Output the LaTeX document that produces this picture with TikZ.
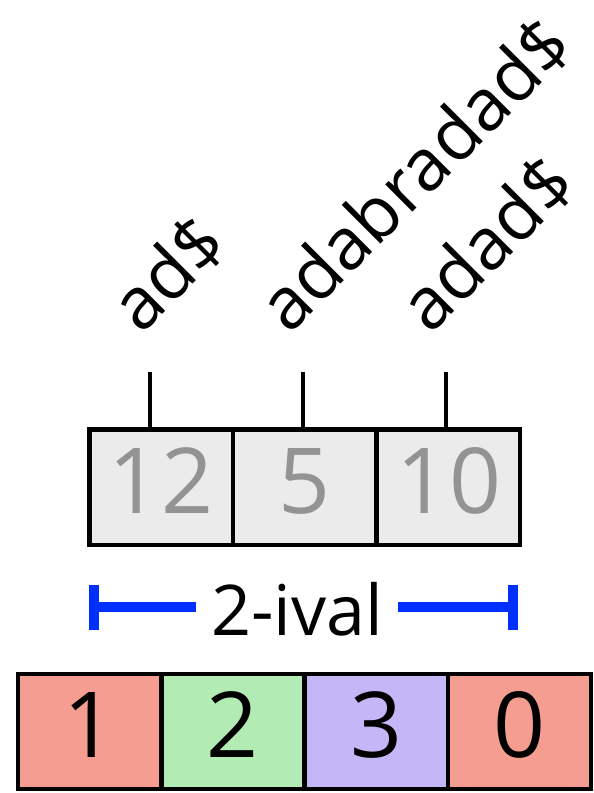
\documentclass[tikz,border=0pt]{standalone}
\usepackage{fontspec}
\setmainfont{Open Sans}
\definecolor{cellgray}{HTML}{EBEBEB}
\definecolor{numgray}{HTML}{939393}
\definecolor{cred}{HTML}{F59D90}
\definecolor{cgreen}{HTML}{B2EBB4}
\definecolor{cpurple}{HTML}{C5B6F7}
\definecolor{ivblue}{RGB}{0,48,255}
\tikzset{
  sacell/.style={draw=black, line width=4.5pt, fill=cellgray, minimum width=143.5pt,
    minimum height=115.5pt, inner sep=0pt, outer sep=0pt, anchor=north west},
  colcell/.style={draw=black, line width=4.5pt, minimum width=143.25pt,
    minimum height=115pt, inner sep=0pt, outer sep=0pt, anchor=north west},
  sanum/.style={text=numgray, font=\fontsize{91}{91}\selectfont, anchor=base, inner sep=0pt},
  colnum/.style={text=black, font=\fontsize{91}{91}\selectfont, anchor=base, inner sep=0pt},
  suffix/.style={font=\fontsize{72}{72}\selectfont, rotate=45, anchor=base west, inner sep=0pt},
  stem/.style={line width=4pt},
  ivl/.style={draw=ivblue, line width=10pt},
}
\begin{document}
\begin{tikzpicture}[x=1pt, y=-1pt]
  \useasboundingbox (0,0) rectangle (594,793);

  % suffix-array cells
  \node[sacell] (c1) at (89.5,429.5) {};
  \node[sacell] (c2) at (c1.north east) {};
  \node[sacell] (c3) at (c2.north east) {};
  \node[sanum] (n1) at (161,513) {12};
  \node[sanum] (n2) at (305,513) {5};
  \node[sanum] (n3) at (449,513) {10};

  % stems and suffixes
  \coordinate (s1) at (150,372);
  \coordinate (s2) at (303,372);
  \coordinate (s3) at (446,372);
  \draw[stem] (s1) -- (s1 |- c1.north);
  \draw[stem] (s2) -- (s2 |- c2.north);
  \draw[stem] (s3) -- (s3 |- c3.north);
  \node[suffix] (l1) at (141,336) {ad\$};
  \node[suffix] (l2) at (289,336) {adabradad\$};
  \node[suffix] (l3) at (430,336) {adad\$};

  % interval marker
  \node[font=\fontsize{70}{70}\selectfont, anchor=base, inner xsep=15pt, inner ysep=0pt] (ival) at (297,635) {2-ival};
  \coordinate (iL) at (94,607);
  \coordinate (iR) at (513,607);
  \draw[ivl] ([yshift=22.5pt]iL) -- ([yshift=-22.5pt]iL);
  \draw[ivl] ([yshift=22.5pt]iR) -- ([yshift=-22.5pt]iR);
  \draw[ivl] (iL) -- (iL -| ival.west);
  \draw[ivl] (iR) -- (iR -| ival.east);

  % colour array
  \node[colcell, fill=cred] (d1) at (18,674) {};
  \node[colcell, fill=cgreen] (d2) at (d1.north east) {};
  \node[colcell, fill=cpurple] (d3) at (d2.north east) {};
  \node[colcell, fill=cred] (d4) at (d3.north east) {};
  \node[colnum] (m1) at (d1.center |- 0,757) {1};
  \node[colnum] (m2) at (d2.center |- 0,757) {2};
  \node[colnum] (m3) at (d3.center |- 0,757) {3};
  \node[colnum] (m4) at (d4.center |- 0,757) {0};
\end{tikzpicture}
\end{document}
